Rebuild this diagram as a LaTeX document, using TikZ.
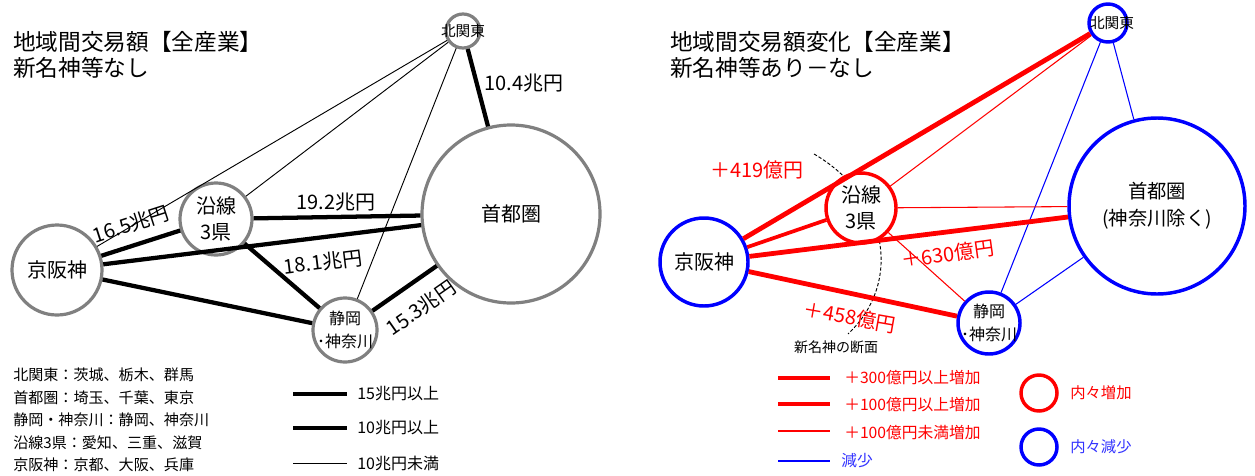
\documentclass[tikz,border=0pt]{standalone}
\usepackage{fontspec}
\setmainfont{Noto Sans CJK JP}
\definecolor{gcol}{HTML}{808080}
\definecolor{rcol}{HTML}{FF0000}
\definecolor{bcol}{HTML}{0000FF}
\newcommand{\fs}[1]{\fontsize{#1pt}{\dimexpr #1pt*6/5\relax}\selectfont}
\begin{document}
\begin{tikzpicture}[x=0.75pt,y=-0.75pt,
  reg/.style={circle,fill=white,inner sep=0pt,minimum size=#1*1.5pt},
  greg/.style={reg=#1,draw=gcol,line width=2.4pt},
  rreg/.style={reg=#1,draw=rcol,line width=2.6pt},
  breg/.style={reg=#1,draw=bcol,line width=2.6pt},
  lbl/.style={align=center,inner sep=0pt,font=\fs{15}},
  thk/.style={line width=3.2pt,black},
  thn/.style={line width=0.7pt,black},
  rA/.style={line width=3.6pt,rcol},
  rB/.style={line width=2.8pt,rcol},
  rC/.style={line width=0.8pt,rcol},
  bC/.style={line width=0.8pt,bcol},
  elbl/.style={inner sep=0pt,font=\fs{15}},
  title/.style={anchor=west,align=left,inner sep=0pt,font=\fontsize{17pt}{19.5pt}\selectfont},
  leg/.style={anchor=west,inner sep=0pt,font=\fs{11.3}},
]
\useasboundingbox[fill=white] (0,0) rectangle (1255,475);

% ---------- titles ----------
\node[title] (t1) at (13,55) {地域間交易額【全産業】\\新名神等なし};
\node[title] (t2) at (670,55) {地域間交易額変化【全産業】\\新名神等あり－なし};

% ---------- left diagram ----------
\node[greg=17] (lK) at (463,31) {};
\node[greg=89] (lS) at (511,214) {};
\node[greg=36] (lE) at (216,219) {};
\node[greg=45] (lKH) at (57,270) {};
\node[greg=32] (lSK) at (345,330) {};

\draw[thn] (lK) -- (lKH);
\draw[thn] (lK) -- (lE);
\draw[thn] (lK) -- (lSK);
\draw[thk] (lK) -- (lS);
\draw[thk] (lKH) -- (lE);
\draw[thk] (lE) -- (lS);
\draw[thk] (lKH) -- (lS);
\draw[thk] (lE) -- (lSK);
\draw[thk] (lKH) -- (lSK);
\draw[thk] (lSK) -- (lS);

\node[lbl,font=\fs{11}] at (lK) {北関東};
\node[lbl] at (lS) {首都圏};
\node[lbl,font=\fontsize{15pt}{20pt}\selectfont] at (lE) {沿線\\3県};
\node[lbl] at (lKH) {京阪神};
\node[lbl,font=\fontsize{12pt}{17pt}\selectfont] at (lSK) {静岡\\･神奈川};

\node[elbl] (e1) at (524,83) {10.4兆円};
\node[elbl,rotate=18] (e2) at (131,224) {16.5兆円};
\node[elbl] (e3) at (336,202) {19.2兆円};
\node[elbl,rotate=7] (e4) at (323,262) {18.1兆円};
\node[elbl,rotate=35] (e5) at (421,308) {15.3兆円};

% left legend
\node[leg] (L1) at (13,375) {北関東：茨城、栃木、群馬};
\node[leg] (L2) at (13,398) {首都圏：埼玉、千葉、東京};
\node[leg] (L3) at (13,420) {静岡・神奈川：静岡、神奈川};
\node[leg] (L4) at (13,443) {沿線3県：愛知、三重、滋賀};
\node[leg] (L5) at (13,465) {京阪神：京都、大阪、兵庫};

\coordinate (la1) at (293,394); \coordinate (lb1) at (347,394);
\coordinate (la2) at (293,428); \coordinate (lb2) at (347,428);
\coordinate (la3) at (293,463); \coordinate (lb3) at (347,463);
\draw[thk] (la1) -- (lb1);
\draw[line width=2.9pt] (la2) -- (lb2);
\draw[thn] (la3) -- (lb3);
\node[leg,font=\fs{12}] (lt1) at (357,394) {15兆円以上};
\node[leg,font=\fs{12}] (lt2) at (357,428) {10兆円以上};
\node[leg,font=\fs{12}] (lt3) at (357,463) {10兆円未満};

% ---------- right diagram ----------
\coordinate (d0) at (814,154);
\coordinate (d1) at (848,334);
\draw[line width=0.7pt,dash pattern=on 2.5pt off 1.5pt] (d0) .. controls (885,195) and (905,280) .. (d1);

\node[breg=19] (rK) at (1108,23) {};
\node[breg=88] (rS) at (1157,206) {};
\node[rreg=35] (rE) at (861,208) {};
\node[breg=44] (rKH) at (704,262) {};
\node[breg=31] (rSK) at (989,323) {};

\draw[rA] (rKH) -- (rK);
\draw[rC] (rE) -- (rK);
\draw[bC] (rK) -- (rSK);
\draw[bC] (rK) -- (rS);
\draw[bC] (rS) -- (rSK);
\draw[rB] (rKH) -- (rE);
\draw[rC] (rE) -- (rS);
\draw[rA] (rKH) -- (rS);
\draw[rC] (rE) -- (rSK);
\draw[rA] (rKH) -- (rSK);

\node[lbl,font=\fs{11}] at ([xshift=3pt]rK) {北関東};
\node[lbl,font=\fontsize{14.5pt}{20pt}\selectfont] at (rS) {首都圏\\(神奈川除く)};
\node[lbl,font=\fontsize{15pt}{20pt}\selectfont] at (rE) {沿線\\3県};
\node[lbl] at (rKH) {京阪神};
\node[lbl,font=\fontsize{12pt}{17pt}\selectfont] at (rSK) {静岡\\･神奈川};

\node[elbl,text=rcol] (f1) at (757,170) {＋419億円};
\node[elbl,text=rcol,rotate=8] (f2) at (948,254) {＋630億円};
\node[elbl,text=rcol,rotate=-10] (f3) at (850,317) {＋458億円};
\node[inner sep=0pt,font=\fs{10.5}] (sec) at (836,347) {新名神の断面};

% right legend
\coordinate (ra1) at (778,378); \coordinate (rb1) at (830,378);
\coordinate (ra2) at (778,404); \coordinate (rb2) at (830,404);
\coordinate (ra3) at (778,431); \coordinate (rb3) at (830,431);
\coordinate (ra4) at (778,461); \coordinate (rb4) at (830,461);
\draw[rA] (ra1) -- (rb1);
\draw[rB] (ra2) -- (rb2);
\draw[rC] (ra3) -- (rb3);
\draw[bC] (ra4) -- (rb4);
\node[leg,font=\fs{11.8},text=rcol] (rt1) at (844,378) {＋300億円以上増加};
\node[leg,font=\fs{11.8},text=rcol] (rt2) at (844,405) {＋100億円以上増加};
\node[leg,font=\fs{11.8},text=rcol] (rt3) at (844,433) {＋100億円未満増加};
\node[leg,font=\fs{11.8},text=bcol!80] (rt4) at (841,461) {減少};

\node[rreg=18] (c1) at (1039,393) {};
\node[breg=18] (c2) at (1039,447) {};
\node[leg,font=\fs{11.5},text=rcol] (ct1) at (1070,393) {内々増加};
\node[leg,font=\fs{11.5},text=bcol!80] (ct2) at (1070,447) {内々減少};
\end{tikzpicture}
\end{document}
